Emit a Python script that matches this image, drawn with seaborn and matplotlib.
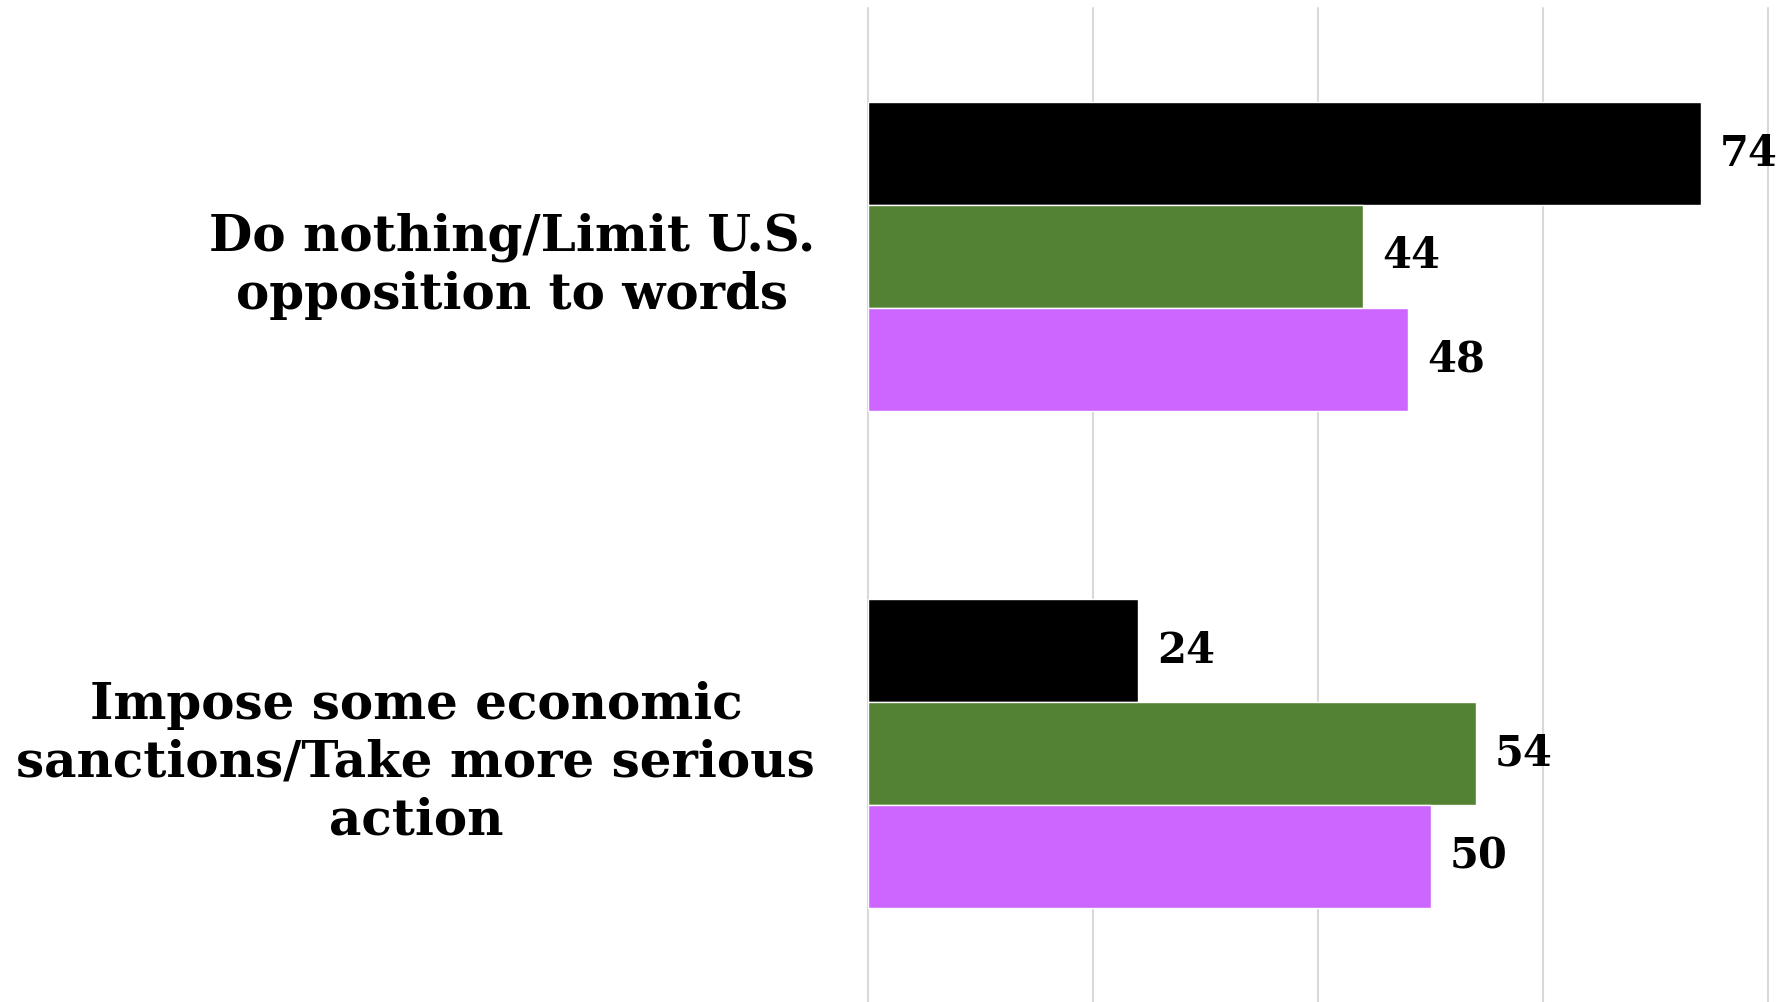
import matplotlib
matplotlib.use("Agg")
import matplotlib.pyplot as plt
import seaborn as sns
import pandas as pd

categories = [
    "Do nothing/Limit U.S.\nopposition to words",
    "Impose some economic\nsanctions/Take more serious\naction",
]
series = ["Group 1", "Group 2", "Group 3"]
values = {
    "Group 1": [74, 24],
    "Group 2": [44, 54],
    "Group 3": [48, 50],
}
colors = ["#000000", "#548235", "#CC66FF"]
x_ticks = [0, 20, 40, 60, 80]

rows = []
for s in series:
    for c, v in zip(categories, values[s]):
        rows.append({"category": c, "series": s, "value": v})
df = pd.DataFrame(rows)

sns.set_theme(style="white")
plt.rcParams["font.family"] = ["DejaVu Serif"]
plt.rcParams["text.color"] = "black"
plt.rcParams["ytick.color"] = "black"

W, H, DPI = 1787, 1002, 100
fig = plt.figure(figsize=(W / DPI, H / DPI), dpi=DPI)
ax = fig.add_axes([868 / W, 0.0, (1768 - 868) / W, 1 - 8 / H])

sns.barplot(
    data=df, y="category", x="value", hue="series", order=categories,
    hue_order=series, palette=colors, orient="h", width=0.62,
    saturation=1, dodge=True, legend=False, ax=ax,
)

ax.set_xlim(0, 80)
ax.set_ylim(1.5, -0.5)
ax.set_xticks(x_ticks)
ax.set_xticklabels([])
ax.tick_params(axis="both", length=0)
ax.xaxis.grid(True, color="#D9D9D9", linewidth=1.5)
for gl in ax.get_xgridlines():
    gl.set_clip_on(False)
ax.set_axisbelow(True)
for sp in ax.spines.values():
    sp.set_visible(False)
ax.set_xlabel("")
ax.set_ylabel("")

ax.set_yticks(range(len(categories)))
ax.set_yticklabels(categories, fontsize=36, fontweight="bold", color="black",
                   multialignment="center", linespacing=1.22)
ax.tick_params(axis="y", pad=38)

for cont in ax.containers:
    ax.bar_label(cont, fmt="%d", padding=14, fontsize=30, color="black",
                 fontweight="bold", clip_on=False)

fig.savefig("out.png", dpi=DPI, facecolor="white")
